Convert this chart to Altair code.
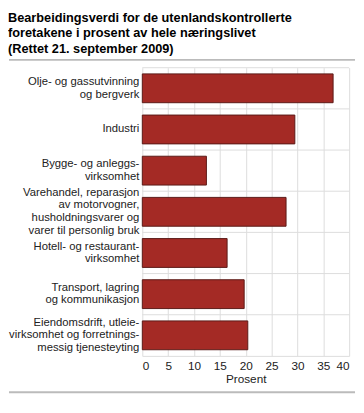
import altair as alt
import pandas as pd

title_lines = [
    "Bearbeidingsverdi for de utenlandskontrollerte",
    "foretakene i prosent av hele næringslivet",
    "(Rettet 21. september 2009)",
]
categories = [
    "Olje- og gassutvinning|og bergverk",
    "Industri",
    "Bygge- og anleggs-|virksomhet",
    "Varehandel, reparasjon|av motorvogner,|husholdningsvarer og|varer til personlig bruk",
    "Hotell- og restaurant-|virksomhet",
    "Transport, lagring|og kommunikasjon",
    "Eiendomsdrift, utleie-|virksomhet og forretnings-|messig tjenesteyting",
]
values = [36.9, 29.5, 12.4, 27.8, 16.4, 19.7, 20.4]
x_ticks = [0, 5, 10, 15, 20, 25, 30, 35, 40]
x_title = "Prosent"

df = pd.DataFrame({"kategori": categories, "verdi": values})

FONT = "Liberation Sans"
GRID = "#dcdcdc"
LH = 13
N = len(categories)

y_scale = alt.Scale(paddingInner=0.3, paddingOuter=0.15)

grid_rules = alt.Chart(df).mark_rule(
    color=GRID, strokeWidth=1, yOffset=alt.expr(f"-0.15 * height / {N}")
).encode(
    y=alt.Y("kategori:N", sort=categories, bandPosition=0, scale=y_scale, axis=None),
)

bars = alt.Chart(df).mark_bar(
    color="#A42A25", stroke="#5a1a17", strokeWidth=1
).encode(
    x=alt.X(
        "verdi:Q",
        scale=alt.Scale(domain=[0, 40], nice=False),
        axis=alt.Axis(
            values=x_ticks, title=x_title, grid=True, gridColor=GRID,
            domain=True, domainColor=GRID, ticks=False,
            labelFont=FONT, labelFontSize=12, labelColor="#222222", labelPadding=5,
            titleFont=FONT, titleFontSize=12, titleFontWeight="normal",
            titleColor="#222222", titlePadding=2,
        ),
    ),
    y=alt.Y("kategori:N", sort=categories, scale=y_scale, axis=None),
)

labels = alt.Chart(df).transform_calculate(
    lines="split(datum.kategori, '|')",
    shift=f"0.35 * height / {N} - (length(split(datum.kategori, '|')) - 1) * {LH / 2}",
).mark_text(
    align="right", baseline="middle", font=FONT, fontSize=11.5,
    lineHeight=LH, color="#222222", dx=-3,
).encode(
    y=alt.Y("kategori:N", sort=categories, scale=y_scale, axis=None),
    yOffset=alt.YOffset("shift:Q", scale=None),
    x=alt.value(0),
    text=alt.Text("lines:N"),
)

sep = alt.Chart(pd.DataFrame({"p": [0]})).mark_rule(
    color="#bbbbbb", strokeWidth=2, x2Offset=6
).encode(
    x=alt.value(-136), x2=alt.value("width"), y=alt.value(-8)
)
sep2 = alt.Chart(pd.DataFrame({"p": [0]})).mark_rule(
    color="#bbbbbb", strokeWidth=2, x2Offset=6, yOffset=37
).encode(
    x=alt.value(-136), x2=alt.value("width"), y=alt.value("height"),
)

chart = alt.layer(grid_rules, bars, labels, sep, sep2).properties(
    width=355,
    height=389,
    autosize=alt.AutoSizeParams(type="fit", contains="padding"),
    padding={"left": 0, "top": 0, "right": 0, "bottom": 0},
    title=alt.TitleParams(
        text=title_lines, anchor="start", font=FONT, fontSize=13,
        fontWeight="bold", color="#000000", lineHeight=16, offset=3,
    ),
).configure_view(stroke=None)

chart.save("out.html", embed_options={"renderer": "svg", "actions": False})
